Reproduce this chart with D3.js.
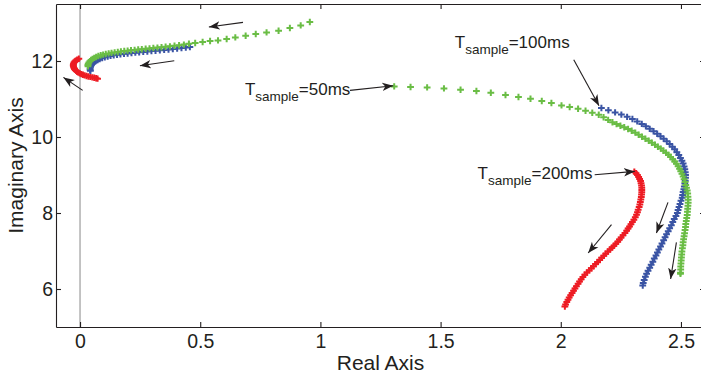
<!DOCTYPE html>
<html>
<head>
<meta charset="utf-8">
<script src="https://cdn.jsdelivr.net/npm/d3@7"></script>
<style>
  body { margin: 0; background: #fff; }
  svg { font-family: "Liberation Sans", Arial, Helvetica, sans-serif; }
</style>
</head>
<body>
<svg id="chart" width="701" height="377"></svg>
<script>
// root locus points [real, imag]
const redUpper = [[-0.005,12.06],[-0.012,12.035],[-0.018,12.01],[-0.022,11.985],[-0.025,11.958],[-0.027,11.93],[-0.028,11.902],[-0.028,11.874],[-0.027,11.846],[-0.025,11.818],[-0.023,11.792],[-0.02,11.766],[-0.016,11.74],[-0.012,11.716],[-0.007,11.694],[-0.001,11.674],[0.005,11.655],[0.012,11.638],[0.019,11.622],[0.027,11.607],[0.035,11.594],[0.043,11.582],[0.051,11.57],[0.059,11.558],[0.067,11.546],[0.073,11.535]];
const redLower = [[2.306,9.085],[2.313,9.045],[2.319,9.0],[2.324,8.95],[2.328,8.895],[2.332,8.84],[2.334,8.785],[2.336,8.725],[2.337,8.665],[2.337,8.605],[2.337,8.545],[2.336,8.485],[2.335,8.42],[2.333,8.355],[2.331,8.29],[2.329,8.225],[2.326,8.155],[2.322,8.085],[2.319,8.02],[2.315,7.955],[2.31,7.89],[2.304,7.825],[2.298,7.765],[2.292,7.705],[2.286,7.645],[2.28,7.59],[2.274,7.535],[2.267,7.475],[2.259,7.415],[2.251,7.355],[2.244,7.3],[2.237,7.245],[2.229,7.19],[2.221,7.14],[2.213,7.09],[2.205,7.04],[2.196,6.985],[2.187,6.93],[2.179,6.875],[2.17,6.82],[2.162,6.765],[2.153,6.71],[2.145,6.655],[2.136,6.6],[2.127,6.545],[2.118,6.49],[2.109,6.435],[2.1,6.375],[2.092,6.315],[2.085,6.255],[2.078,6.195],[2.072,6.135],[2.065,6.075],[2.059,6.015],[2.053,5.955],[2.047,5.895],[2.041,5.835],[2.035,5.775],[2.03,5.715],[2.025,5.655],[2.02,5.595],[2.017,5.54]];

const blueUpper = [[0.457,12.37],[0.44,12.355],[0.422,12.34],[0.404,12.327],[0.386,12.315],[0.368,12.303],[0.35,12.292],[0.332,12.281],[0.314,12.27],[0.297,12.26],[0.28,12.25],[0.263,12.24],[0.246,12.23],[0.23,12.22],[0.214,12.21],[0.198,12.199],[0.183,12.188],[0.168,12.176],[0.154,12.163],[0.14,12.149],[0.127,12.134],[0.115,12.117],[0.103,12.098],[0.092,12.077],[0.082,12.053],[0.073,12.026],[0.065,11.996],[0.058,11.963],[0.052,11.928],[0.047,11.89],[0.044,11.85],[0.042,11.81],[0.042,11.77],[0.043,11.745]];
const blueLower = [[2.169,10.763],[2.198,10.705],[2.226,10.648],[2.252,10.59],[2.276,10.53],[2.298,10.472],[2.318,10.41],[2.337,10.345],[2.354,10.28],[2.37,10.215],[2.386,10.15],[2.401,10.085],[2.415,10.02],[2.428,9.955],[2.441,9.885],[2.453,9.815],[2.464,9.745],[2.474,9.675],[2.483,9.6],[2.491,9.525],[2.498,9.45],[2.504,9.375],[2.509,9.3],[2.513,9.225],[2.516,9.15],[2.518,9.075],[2.519,9.0],[2.519,8.925],[2.518,8.85],[2.516,8.775],[2.514,8.7],[2.512,8.625],[2.509,8.55],[2.507,8.475],[2.505,8.4],[2.5,8.32],[2.496,8.24],[2.492,8.16],[2.488,8.08],[2.485,8.0],[2.479,7.92],[2.472,7.84],[2.466,7.76],[2.46,7.68],[2.453,7.6],[2.447,7.52],[2.44,7.44],[2.434,7.36],[2.428,7.28],[2.421,7.2],[2.415,7.12],[2.408,7.04],[2.402,6.96],[2.396,6.88],[2.389,6.8],[2.383,6.72],[2.376,6.64],[2.37,6.56],[2.363,6.48],[2.357,6.4],[2.352,6.32],[2.347,6.24],[2.343,6.16],[2.341,6.09]];

const greenUpper = [[0.956,13.026],[0.918,12.937],[0.873,12.868],[0.826,12.797],[0.776,12.753],[0.731,12.711],[0.689,12.666],[0.646,12.621],[0.61,12.579],[0.574,12.542],[0.541,12.526],[0.51,12.5],[0.479,12.474],[0.453,12.455],[0.432,12.432],[0.412,12.415],[0.393,12.4],[0.374,12.386],[0.356,12.374],[0.339,12.363],[0.322,12.352],[0.305,12.341],[0.289,12.331],[0.273,12.321],[0.257,12.311],[0.242,12.302],[0.227,12.292],[0.212,12.283],[0.198,12.272],[0.184,12.262],[0.17,12.25],[0.157,12.238],[0.144,12.226],[0.131,12.214],[0.119,12.2],[0.107,12.185],[0.096,12.168],[0.086,12.15],[0.076,12.13],[0.067,12.107],[0.059,12.082],[0.052,12.055],[0.046,12.026],[0.041,11.995],[0.037,11.962],[0.034,11.928],[0.033,11.895],[0.033,11.862]];
const greenLower = [[1.307,11.332],[1.375,11.316],[1.444,11.305],[1.514,11.279],[1.583,11.245],[1.649,11.211],[1.709,11.166],[1.77,11.105],[1.824,11.053],[1.874,11.008],[1.921,10.947],[1.961,10.895],[2.003,10.832],[2.037,10.789],[2.072,10.745],[2.103,10.692],[2.131,10.639],[2.158,10.587],[2.178,10.52],[2.197,10.45],[2.215,10.39],[2.232,10.34],[2.248,10.298],[2.264,10.255],[2.28,10.21],[2.295,10.165],[2.31,10.115],[2.324,10.06],[2.338,10.005],[2.352,9.955],[2.366,9.9],[2.379,9.85],[2.392,9.795],[2.404,9.745],[2.416,9.695],[2.427,9.64],[2.438,9.585],[2.448,9.53],[2.457,9.475],[2.466,9.415],[2.474,9.358],[2.481,9.295],[2.488,9.23],[2.494,9.165],[2.499,9.1],[2.504,9.03],[2.509,8.96],[2.513,8.89],[2.517,8.815],[2.52,8.74],[2.523,8.665],[2.526,8.59],[2.528,8.51],[2.529,8.43],[2.53,8.35],[2.53,8.27],[2.529,8.19],[2.528,8.11],[2.527,8.03],[2.526,7.95],[2.524,7.87],[2.522,7.79],[2.52,7.71],[2.519,7.63],[2.517,7.55],[2.515,7.47],[2.513,7.39],[2.511,7.31],[2.509,7.23],[2.508,7.15],[2.506,7.07],[2.504,6.99],[2.503,6.91],[2.502,6.83],[2.501,6.75],[2.5,6.67],[2.499,6.59],[2.499,6.51],[2.498,6.43],[2.498,6.4]];

const xTicks = [0, 0.5, 1, 1.5, 2, 2.5];
const yTicks = [6, 8, 10, 12];

// annotation arrows [fromRe, fromIm, toRe, toIm]
const arrows = [
  [0.678, 13.016, 0.536, 12.895],
  [0.392, 12.008, 0.249, 11.876],
  [0.011, 11.226, -0.069, 11.568],
  [1.123, 11.226, 1.303, 11.35],
  [2.054, 12.034, 2.159, 10.824],
  [2.141, 9.008, 2.308, 9.095],
  [2.211, 7.692, 2.114, 6.947],
  [2.446, 8.279, 2.398, 7.474],
  [2.481, 7.226, 2.457, 6.263]
];
// labels: [re, im, period]
const labels = [
  [0.686, 11.113, "50ms"],
  [1.559, 12.35, "100ms"],
  [1.654, 8.903, "200ms"]
];

const svg = d3.select("#chart");
const x = d3.scaleLinear().domain([-0.1, 2.6]).range([56, 705]);
const y = d3.scaleLinear().domain([5, 13.5]).range([327, 4]);
const ink = "#231f20";

svg.append("defs").append("marker")
  .attr("id", "head")
  .attr("viewBox", "-11 -5 12 10")
  .attr("markerWidth", 12)
  .attr("markerHeight", 10)
  .attr("markerUnits", "userSpaceOnUse")
  .attr("refX", 0)
  .attr("refY", 0)
  .attr("orient", "auto")
  .append("path")
  .attr("d", "M0,0L-11,-4.2L-8,0L-11,4.2Z")
  .attr("fill", ink);

// imaginary axis line
svg.append("line")
  .attr("x1", x(0)).attr("x2", x(0))
  .attr("y1", y.range()[1]).attr("y2", y.range()[0])
  .attr("stroke", "#bdbdbd")
  .attr("stroke-width", 1.8);

// Function to draw one branch of '+' markers
function drawBranch(data, color) {
  svg.append("g")
    .selectAll("path")
    .data(data)
    .enter()
    .append("path")
    .attr("d", "M-3.4,0H3.4M0,-3.2V3.2")
    .attr("transform", (d) => `translate(${x(d[0])},${y(d[1])})`)
    .attr("stroke", color)
    .attr("stroke-width", 2)
    .attr("fill", "none");
}

drawBranch(redUpper, "#ed1c24");
drawBranch(redLower, "#ed1c24");
drawBranch(blueUpper, "#3a54a4");
drawBranch(blueLower, "#3a54a4");
drawBranch(greenUpper, "#6abd45");
drawBranch(greenLower, "#6abd45");

// axes
const fmt = (d) => String(d);
const axes = [
  svg.append("g").attr("transform", `translate(0,${y.range()[0]})`)
    .call(d3.axisBottom(x).tickValues(xTicks).tickFormat(fmt).tickSize(-5).tickSizeOuter(0).tickPadding(7)),
  svg.append("g").attr("transform", `translate(0,${y.range()[1]})`)
    .call(d3.axisTop(x).tickValues(xTicks).tickFormat("").tickSize(-5).tickSizeOuter(0)),
  svg.append("g").attr("transform", `translate(${x.range()[0]},0)`)
    .call(d3.axisLeft(y).tickValues(yTicks).tickFormat(fmt).tickSize(-5).tickSizeOuter(0).tickPadding(3)),
  svg.append("g").attr("transform", `translate(${x.range()[1]},0)`)
    .call(d3.axisRight(y).tickValues(yTicks).tickFormat("").tickSize(-5).tickSizeOuter(0))
];
axes.forEach((g) => {
  g.selectAll("path, line").attr("stroke", ink).attr("stroke-width", 1.1);
  g.selectAll("text")
    .attr("fill", ink)
    .attr("font-size", 19.5)
    .attr("font-family", "Liberation Sans, Arial, sans-serif");
});

// arrows
svg.append("g")
  .selectAll("line")
  .data(arrows)
  .enter()
  .append("line")
  .attr("x1", (d) => x(d[0]))
  .attr("y1", (d) => y(d[1]))
  .attr("x2", (d) => x(d[2]))
  .attr("y2", (d) => y(d[3]))
  .attr("stroke", ink)
  .attr("stroke-width", 1.1)
  .attr("marker-end", "url(#head)");

// T_sample labels
const lab = svg.append("g")
  .selectAll("text")
  .data(labels)
  .enter()
  .append("text")
  .attr("x", (d) => x(d[0]))
  .attr("y", (d) => y(d[1]))
  .attr("fill", ink)
  .attr("font-size", 17);
lab.append("tspan").text("T");
lab.append("tspan").attr("font-size", 13.5).attr("dy", 6).text("sample");
lab.append("tspan").attr("dy", -6).text((d) => "=" + d[2]);

// axis titles
svg.append("text")
  .attr("x", (x.range()[0] + x.range()[1]) / 2)
  .attr("y", 370)
  .attr("text-anchor", "middle")
  .attr("fill", ink)
  .attr("font-size", 21)
  .text("Real Axis");

svg.append("text")
  .attr("transform", `translate(23,${(y.range()[0] + y.range()[1]) / 2}) rotate(-90)`)
  .attr("text-anchor", "middle")
  .attr("fill", ink)
  .attr("font-size", 21)
  .text("Imaginary Axis");
</script>
</body>
</html>
